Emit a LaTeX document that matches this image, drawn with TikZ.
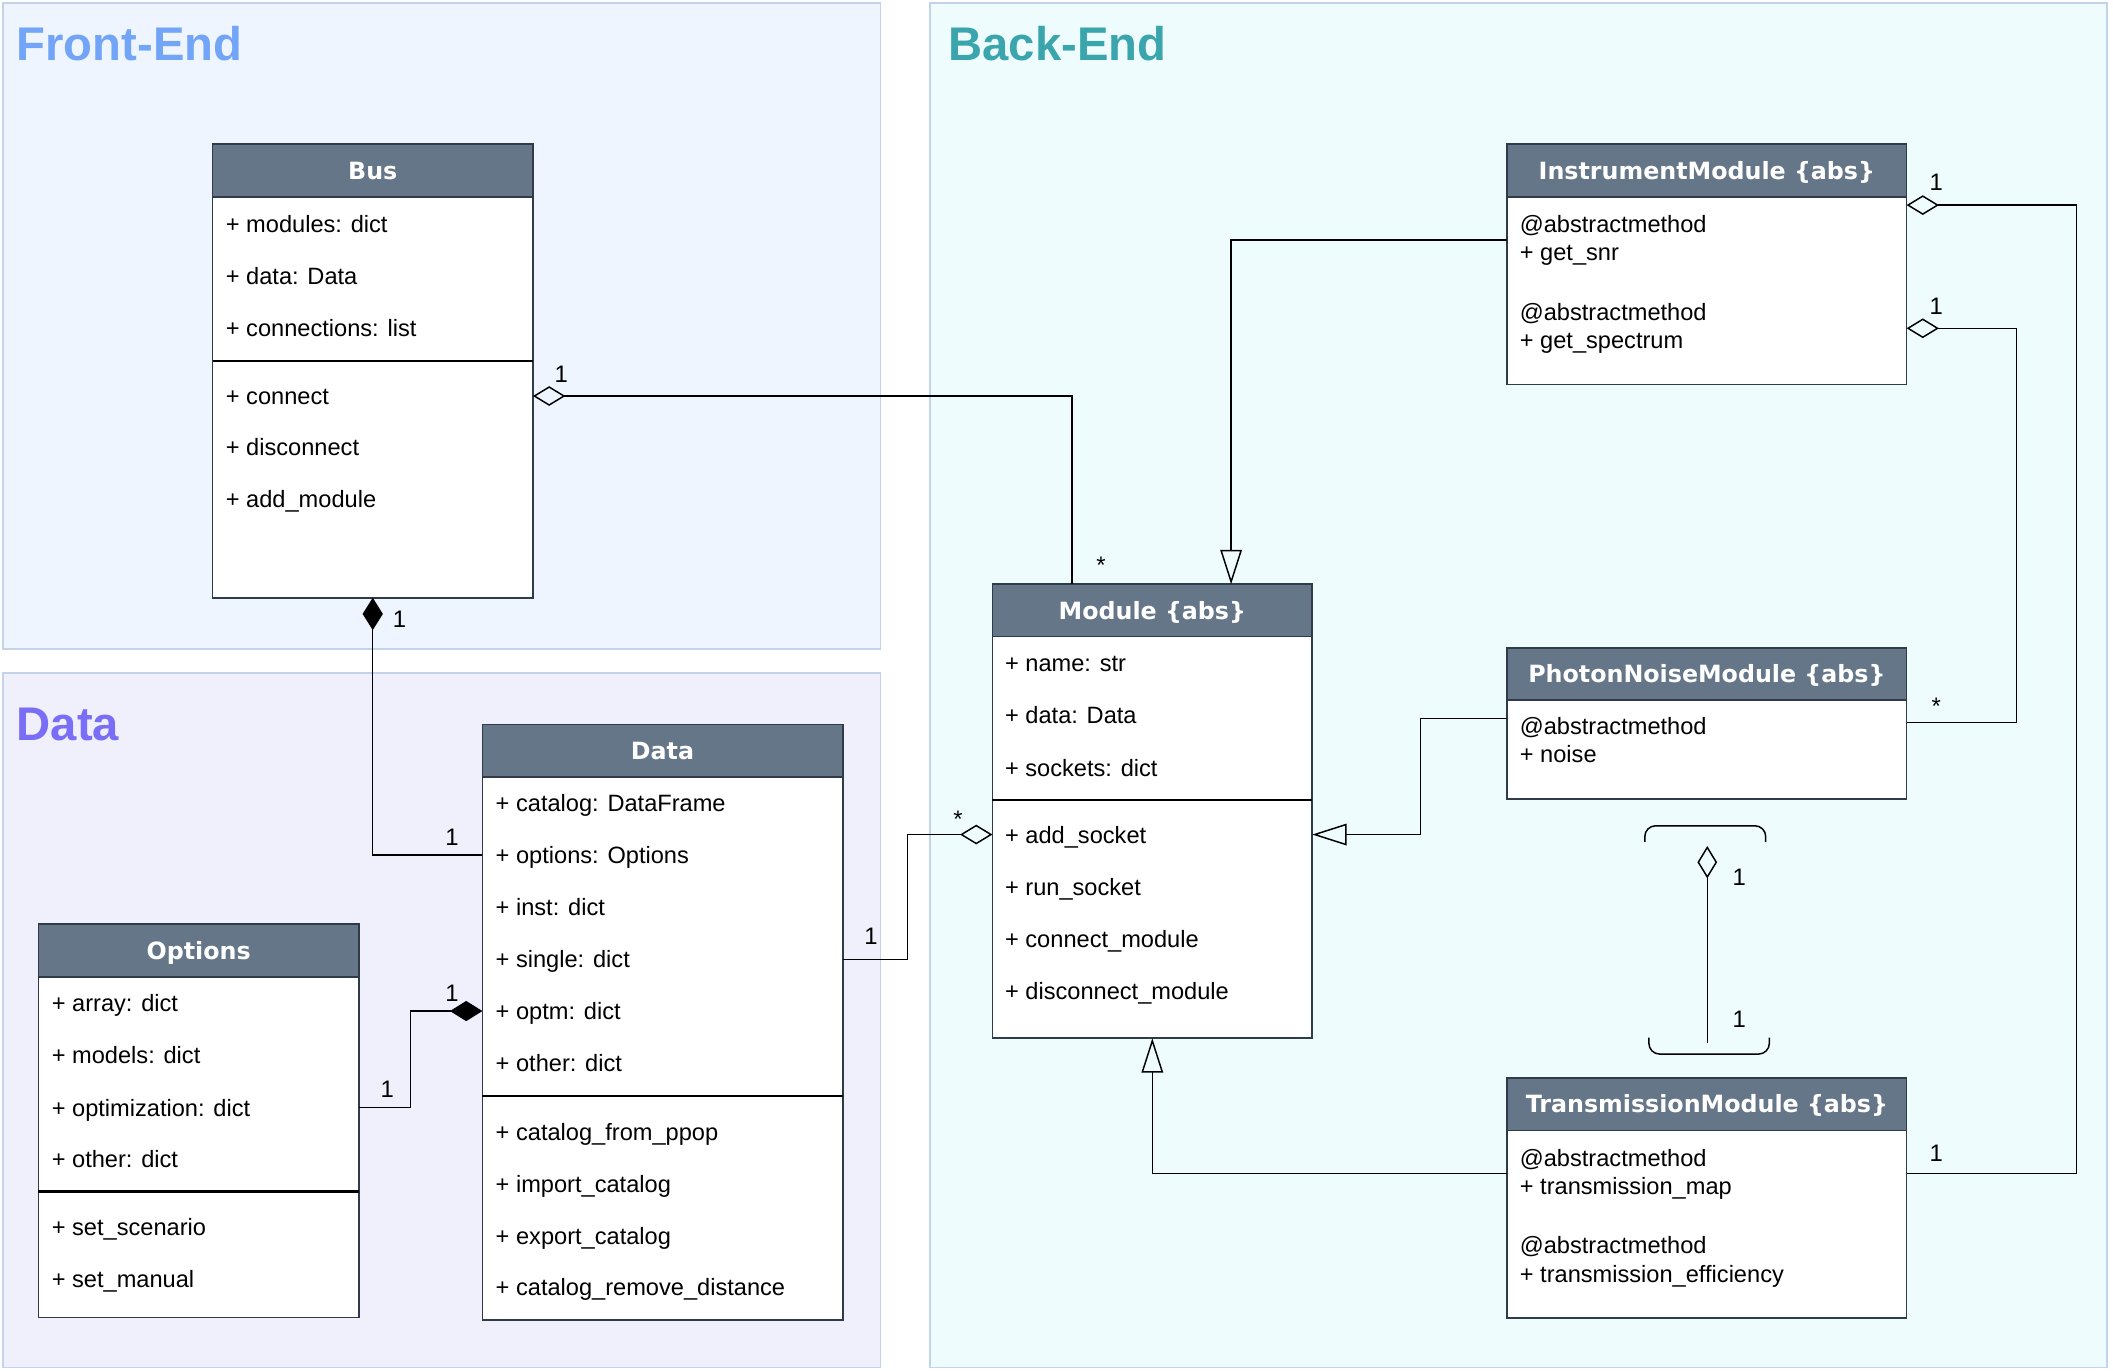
\documentclass[tikz,border=0pt]{standalone}
\usepackage{fontspec}
\setmainfont{Liberation Sans}
\newfontfamily\hdrfont{DejaVu Sans}
\usetikzlibrary{arrows.meta}
\definecolor{frontbg}{HTML}{EEF5FE}
\definecolor{databg}{HTML}{F0F0FC}
\definecolor{backbg}{HTML}{EEFCFD}
\definecolor{panelborder}{HTML}{C4D3E9}
\definecolor{fronttitle}{HTML}{72A4F7}
\definecolor{datatitle}{HTML}{7B6EF6}
\definecolor{backtitle}{HTML}{3AA5AC}
\definecolor{headfill}{HTML}{647687}
\definecolor{boxstroke}{HTML}{2F3B48}
\begin{document}
\begin{tikzpicture}[x=0.5pt,y=-0.5pt,
  panel/.style={draw=panelborder, line width=0.65pt, anchor=north west, inner sep=0, outer sep=0},
  classbody/.style={draw=boxstroke, fill=white, line width=0.65pt, anchor=north west, inner sep=0, outer sep=0},
  classhead/.style={draw=boxstroke, fill=headfill, line width=0.65pt, anchor=north west, inner sep=0, outer sep=0,
    font=\hdrfont\bfseries\fontsize{8.8pt}{10pt}\selectfont, text=white, text height=6.4pt, text depth=0pt, minimum height=19.4pt},
  row/.style={anchor=west, inner sep=0, text height=6.3pt, text depth=0pt, font=\fontsize{8.75pt}{10pt}\selectfont},
  mult/.style={inner sep=0, text height=6.3pt, text depth=0pt, font=\fontsize{8.85pt}{10pt}\selectfont},
  sepl/.style={draw=black, line width=0.8pt},
  conn/.style={draw=black, line width=0.55pt},
  ptitle/.style={anchor=base west, inner sep=0, font=\bfseries\fontsize{17.5pt}{20pt}\selectfont},
  odiam/.style={-{Diamond[open, length=12pt, width=7.3pt]}},
  fdiam/.style={-{Diamond[length=12pt, width=7.5pt]}},
  otri/.style={-{Triangle[open, length=12.75pt, width=8pt]}}
]
\useasboundingbox (0,0) rectangle (1566,1016);
\fill[white] (0,0) rectangle (1566,1016);

% panels
\node[panel, fill=frontbg, minimum width=325pt, minimum height=239.25pt] (frontPanel) at (2.5,2.5) {};
\node[panel, fill=databg, minimum width=325pt, minimum height=257.5pt] (dataPanel) at (2.5,498.5) {};
\node[panel, fill=backbg, minimum width=436.25pt, minimum height=505.5pt] (backPanel) at (689,2.5) {};
\node[ptitle, text=fronttitle] (frontTitle) at (12,44.6) {Front-End};
\node[ptitle, text=datatitle] (dataTitle) at (12,549) {Data};
\node[ptitle, text=backtitle] (backTitle) at (702.5,44.5) {Back-End};

% Bus
\node[classbody, minimum width=118.75pt, minimum height=168pt] (bus) at (157.5,107) {};
\node[classhead, minimum width=118.75pt] (busH) at (157.5,107) {Bus};
\draw[sepl] (bus.west |- 0,267.3) -- (bus.east |- 0,267.3);
\node[row] (busR1) at (167,166) {+ modules: dict};
\node[row] (busR2) at (167,204.6) {+ data: Data};
\node[row] (busR3) at (167,243) {+ connections: list};
\node[row] (busM1) at (167,293.5) {+ connect};
\node[row] (busM2) at (167,331.6) {+ disconnect};
\node[row] (busM3) at (167,370) {+ add\_module};

% Data
\node[classbody, minimum width=133.5pt, minimum height=220.75pt] (data) at (357.5,537) {};
\node[classhead, minimum width=133.5pt] (dataH) at (357.5,537) {Data};
\draw[sepl] (data.west |- 0,812.3) -- (data.east |- 0,812.3);
\node[row] (dataR1) at (367,595.4) {+ catalog: DataFrame};
\node[row] (dataR2) at (367,633.8) {+ options: Options};
\node[row] (dataR3) at (367,672.4) {+ inst: dict};
\node[row] (dataR4) at (367,711) {+ single: dict};
\node[row] (dataR5) at (367,749.3) {+ optm: dict};
\node[row] (dataR6) at (367,787.6) {+ other: dict};
\node[row] (dataM1) at (367,838.7) {+ catalog\_from\_ppop};
\node[row] (dataM2) at (367,877.4) {+ import\_catalog};
\node[row] (dataM3) at (367,916) {+ export\_catalog};
\node[row] (dataM4) at (367,954) {+ catalog\_remove\_distance};

% Options
\node[classbody, minimum width=118.75pt, minimum height=145.75pt] (opt) at (28.5,685) {};
\node[classhead, minimum width=118.75pt] (optH) at (28.5,685) {Options};
\draw[sepl] (opt.west |- 0,883) -- (opt.east |- 0,883);
\node[row] (optR1) at (38,743.6) {+ array: dict};
\node[row] (optR2) at (38,782) {+ models: dict};
\node[row] (optR3) at (38,820.8) {+ optimization: dict};
\node[row] (optR4) at (38,859) {+ other: dict};
\node[row] (optM1) at (38,909.6) {+ set\_scenario};
\node[row] (optM2) at (38,948) {+ set\_manual};

% Module
\node[classbody, minimum width=118.5pt, minimum height=168.25pt] (mod) at (735.5,433) {};
\node[classhead, minimum width=118.5pt] (modH) at (735.5,433) {Module \{abs\}};
\draw[sepl] (mod.west |- 0,593) -- (mod.east |- 0,593);
\node[row] (modR1) at (744.5,491.6) {+ name: str};
\node[row] (modR2) at (744.5,530.2) {+ data: Data};
\node[row] (modR3) at (744.5,568.9) {+ sockets: dict};
\node[row] (modM1) at (744.5,618.5) {+ add\_socket};
\node[row] (modM2) at (744.5,657.5) {+ run\_socket};
\node[row] (modM3) at (744.5,696.2) {+ connect\_module};
\node[row] (modM4) at (744.5,734.8) {+ disconnect\_module};

% InstrumentModule
\node[classbody, minimum width=148pt, minimum height=89pt] (inst) at (1117,107) {};
\node[classhead, minimum width=148pt] (instH) at (1117,107) {InstrumentModule \{abs\}};
\node[row] (instT1) at (1126,166.3) {@abstractmethod};
\node[row] (instT2) at (1126,187) {+ get\_snr};
\node[row] (instT3) at (1126,231) {@abstractmethod};
\node[row] (instT4) at (1126,252) {+ get\_spectrum};

% PhotonNoiseModule
\node[classbody, minimum width=148pt, minimum height=56pt] (pnm) at (1117,480) {};
\node[classhead, minimum width=148pt] (pnmH) at (1117,480) {PhotonNoiseModule \{abs\}};
\node[row] (pnmT1) at (1126,538) {@abstractmethod};
\node[row] (pnmT2) at (1126,558.8) {+ noise};

% TransmissionModule
\node[classbody, minimum width=148pt, minimum height=89pt] (tm) at (1117,799) {};
\node[classhead, minimum width=148pt] (tmH) at (1117,799) {TransmissionModule \{abs\}};
\node[row] (tmT1) at (1126,858) {@abstractmethod};
\node[row] (tmT2) at (1126,879) {+ transmission\_map};
\node[row] (tmT3) at (1126,923) {@abstractmethod};
\node[row] (tmT4) at (1126,944) {+ transmission\_efficiency};

% connectors
\draw[conn, odiam] ([xshift=29.4pt]mod.north west) |- (bus.east |- busM1);
\draw[conn, fdiam] (data.west |- dataR2) -| (bus.south);
\draw[conn, fdiam] (opt.east |- optR3) -- ++(38.2,0) |- (data.west |- dataR5);
\draw[conn, odiam] (data.east |- dataR4) -- ++(48.2,0) |- (mod.west |- modM1);
\draw[conn, otri] ([yshift=-35.5pt]inst.north west) -| ([xshift=88.45pt]mod.north west);
\draw[conn, otri] ([yshift=-26.25pt]pnm.north west) -- ++(-64.2,0) |- (mod.east |- modM1);
\draw[conn, otri] ([yshift=-35.3pt]tm.north west) -| (mod.south);
\draw[conn, odiam] ([yshift=-35.3pt]tm.north east) -- ++(126,0) |- ([yshift=-22.5pt]inst.north east);
\draw[conn, odiam] ([yshift=-27.75pt]pnm.north east) -- ++(81.4,0) |- ([yshift=-68.15pt]inst.north east);

% self association between PhotonNoiseModule and TransmissionModule
\coordinate (selfB) at (1265.3,773.2);
\coordinate (selfT) at (1265.3,627);
\draw[conn, odiam] (selfB) -- (selfT);
\draw[conn, rounded corners=4pt] (1219,624) -- (1219,612) -- (1308.6,612) -- (1308.6,624);
\draw[conn, rounded corners=4pt] (1222,769) -- (1222,781.2) -- (1311.3,781.2) -- (1311.3,769);

% multiplicities
\node[mult] (m1) at (416,277) {1};
\node[mult] (m2) at (816,418.8) {*};
\node[mult] (m3) at (296,458.5) {1};
\node[mult] (m4) at (335,620) {1};
\node[mult] (m5) at (335,736) {1};
\node[mult] (m6) at (287,807) {1};
\node[mult] (m7) at (645.5,694) {1};
\node[mult] (m8) at (710,607.3) {*};
\node[mult] (m9) at (1435,134.7) {1};
\node[mult] (m10) at (1435,226.8) {1};
\node[mult] (m11) at (1435,523.3) {*};
\node[mult] (m12) at (1435,854.6) {1};
\node[mult] (m13) at (1289,649.7) {1};
\node[mult] (m14) at (1289,755.5) {1};
\end{tikzpicture}
\end{document}
